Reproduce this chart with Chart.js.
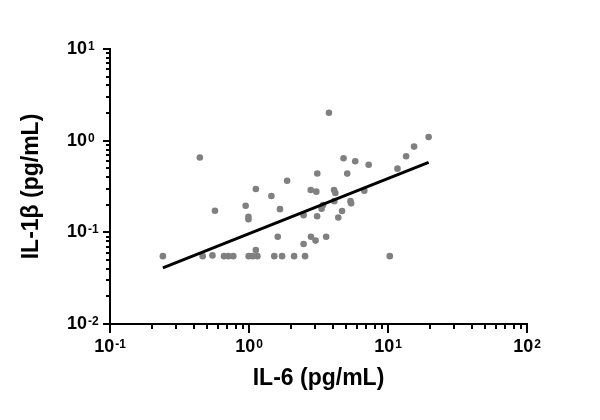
<!DOCTYPE html>
<html>
<head>
<meta charset="utf-8">
<script src="https://cdn.jsdelivr.net/npm/chart.js@4.4.0/dist/chart.umd.min.js"></script>
<style>
  html, body { margin: 0; padding: 0; background: #fff; }
</style>
</head>
<body>
<canvas id="scatterCanvas" width="600" height="420"></canvas>
<script>
// IL-6 (x) vs IL-1beta (y), pg/mL
const il6 = [0.240, 0.443, 0.464, 0.546, 0.569, 0.661, 0.710, 0.771, 0.946, 0.991,
             0.991, 0.994, 1.06, 1.12, 1.15, 1.12, 1.45, 1.52, 1.61, 1.67,
             1.73, 1.88, 2.11, 2.47, 2.47, 2.53, 2.79, 3.01, 2.78, 3.05,
             3.10, 3.09, 3.33, 3.41, 3.59, 3.76, 4.09, 4.18, 4.11, 4.39,
             4.67, 4.79, 5.09, 5.37, 5.43, 5.81, 6.75, 7.26, 10.3, 11.7,
             13.5, 15.4, 19.6];
const il1b = [0.055, 0.656, 0.055, 0.056, 0.172, 0.055, 0.055, 0.055, 0.195, 0.148,
              0.139, 0.055, 0.055, 0.064, 0.055, 0.297, 0.249, 0.055, 0.0895, 0.179,
              0.055, 0.366, 0.055, 0.0747, 0.154, 0.055, 0.0895, 0.0812, 0.290, 0.278,
              0.439, 0.150, 0.181, 0.199, 0.0895, 2.02, 0.290, 0.269, 0.219, 0.145,
              0.171, 0.643, 0.437, 0.219, 0.207, 0.597, 0.285, 0.547, 0.055, 0.495,
              0.676, 0.861, 1.097];

// regression line end points
const fitX = [0.24, 19.6];
const fitY = [0.041, 0.58];

// decade tick labels: 10^exp
const xTickExps = [-1, 0, 1, 2];
const yTickExps = [-2, -1, 0, 1];

const FONT = '"Liberation Sans", Arial, sans-serif';

// draws log ticks (long at decades, short in between) and 10^n labels
const logAxisDecor = {
  id: 'logAxisDecor',
  afterDraw(chart) {
    const ctx = chart.ctx;
    const xs = chart.scales.x, ys = chart.scales.y;
    const area = chart.chartArea;
    ctx.save();
    ctx.strokeStyle = '#000';
    ctx.lineWidth = 2;

    // y ticks, pointing left
    for (let i = 0; i < yTickExps.length; i++) {
      const e = yTickExps[i];
      for (let m = 1; m <= 9; m++) {
        if (i === yTickExps.length - 1 && m > 1) break;
        const py = Math.round(ys.getPixelForValue(m * Math.pow(10, e)));
        const len = m === 1 ? 7 : 4;
        ctx.beginPath();
        ctx.moveTo(area.left - len, py);
        ctx.lineTo(area.left, py);
        ctx.stroke();
      }
    }
    // x ticks, pointing down
    for (let i = 0; i < xTickExps.length; i++) {
      const e = xTickExps[i];
      for (let m = 1; m <= 9; m++) {
        if (i === xTickExps.length - 1 && m > 1) break;
        const px = Math.round(xs.getPixelForValue(m * Math.pow(10, e)));
        const len = m === 1 ? 9 : 5;
        ctx.beginPath();
        ctx.moveTo(px, area.bottom);
        ctx.lineTo(px, area.bottom + len);
        ctx.stroke();
      }
    }

    ctx.fillStyle = '#000';
    const big = 'bold 18px ' + FONT, small = 'bold 12px ' + FONT;

    // y labels
    yTickExps.forEach(e => {
      const py = ys.getPixelForValue(Math.pow(10, e));
      ctx.font = big;
      ctx.textAlign = 'right';
      ctx.textBaseline = 'middle';
      ctx.fillText('10', 87, py);
      ctx.font = small;
      ctx.textAlign = 'left';
      ctx.textBaseline = 'alphabetic';
      ctx.fillText(String(e), 88, py + 1);
    });

    // x labels, centred on the tick
    xTickExps.forEach(e => {
      const px = xs.getPixelForValue(Math.pow(10, e));
      ctx.font = big;
      const w1 = ctx.measureText('10').width;
      ctx.font = small;
      const w2 = ctx.measureText(String(e)).width;
      const x0 = px - (w1 + 1 + w2) / 2;
      const ly = area.bottom + 23;
      ctx.font = big;
      ctx.textAlign = 'left';
      ctx.textBaseline = 'middle';
      ctx.fillText('10', x0, ly);
      ctx.font = small;
      ctx.textBaseline = 'alphabetic';
      ctx.fillText(String(e), x0 + w1 + 1, ly + 1);
    });
    ctx.restore();
  }
};

const ctx = document.getElementById('scatterCanvas').getContext('2d');
new Chart(ctx, {
  type: 'scatter',
  data: {
    datasets: [
      {
        type: 'line',
        data: fitX.map((x, i) => ({ x: x, y: fitY[i] })),
        borderColor: '#000',
        borderWidth: 3,
        pointRadius: 0,
        fill: false
      },
      {
        data: il6.map((x, i) => ({ x: x, y: il1b[i] })),
        backgroundColor: '#808080',
        borderWidth: 0,
        pointRadius: 3.3
      }
    ]
  },
  options: {
    responsive: false,
    animation: false,
    devicePixelRatio: 1,
    layout: { padding: { top: 49, right: 73, bottom: 0, left: 0 } },
    plugins: { legend: { display: false }, tooltip: { enabled: false } },
    scales: {
      x: {
        type: 'logarithmic',
        min: 0.1,
        max: 100,
        grid: { display: false },
        border: { display: true, color: '#000', width: 2 },
        ticks: { display: false },
        title: {
          display: true,
          text: 'IL-6 (pg/mL)',
          color: '#000',
          font: { size: 23, weight: 'bold', family: FONT },
          padding: { top: 0, bottom: 28 }
        },
        afterFit: s => { s.height = 96; }
      },
      y: {
        type: 'logarithmic',
        min: 0.01,
        max: 10,
        grid: { display: false },
        border: { display: true, color: '#000', width: 2 },
        ticks: { display: false },
        title: {
          display: true,
          text: 'IL-1β (pg/mL)',
          color: '#000',
          font: { size: 23, weight: 'bold', family: FONT },
          padding: { top: 18, bottom: 0 }
        },
        afterFit: s => { s.width = 110; }
      }
    }
  },
  plugins: [logAxisDecor]
});
</script>
</body>
</html>
